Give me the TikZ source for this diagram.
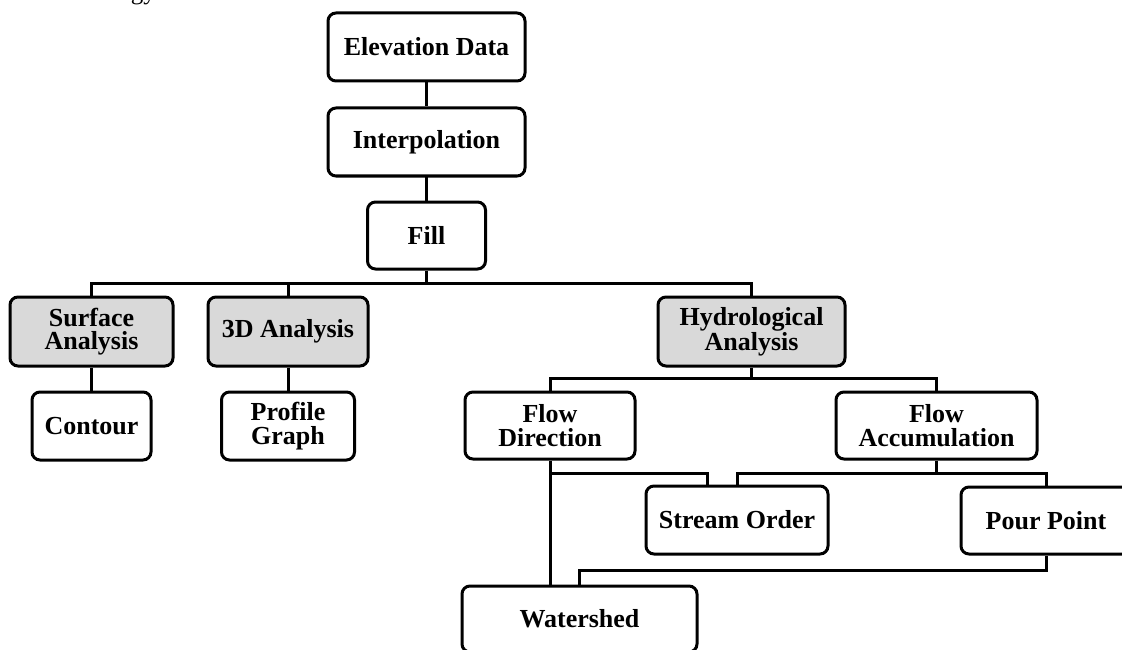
\documentclass[tikz,border=0pt]{standalone}
\usepackage{fontspec}
\setmainfont{Liberation Serif}
\definecolor{boxgray}{RGB}{217,217,217}
\tikzset{
  sz/.style n args={2}{minimum width=#1pt,minimum height=#2pt},
  box/.style={draw=black, line width=3pt, rounded corners=8pt, fill=white,
    inner sep=0pt, align=center, font=\fontsize{26}{23.5}\selectfont\bfseries},
  shaded/.style={box, fill=boxgray},
  link/.style={draw=black, line width=3pt},
  headtext/.style={inner sep=0pt, font=\fontsize{25}{26}\selectfont}
}
\begin{document}
\begin{tikzpicture}[x=1pt,y=-1pt]
\useasboundingbox (0,0) rectangle (1122,650);
\clip (0,0) rectangle (1122,650);
\fill[white] (0,0) rectangle (1122,650);

% cut-off heading
\node[headtext, anchor=base east] (head) at (156,0) {Methodology};

% bus levels
\coordinate (b1) at (0,283);
\coordinate (b2) at (0,378);
\coordinate (b3) at (0,473);
\coordinate (b4) at (0,570);

% nodes
\node[box, sz={197}{68}] (elev) at (426.5,47) {Elevation Data};
\node[box, sz={197}{68}] (interp) at (426.5,142) {Interpolation};
\node[box, sz={118}{67}] (fill) at (426.5,235.5) {Fill};

\node[shaded, sz={163}{69}] (surface) at (91.5,331.5) {Surface\\Analysis};
\node[shaded, sz={160}{69}] (d3) at (288,331.5) {3D Analysis};
\node[shaded, sz={187}{69}] (hydro) at (751.5,331.5) {Hydrological\\Analysis};

\node[box, sz={119}{68}] (contour) at (91.5,426) {Contour};
\node[box, sz={133}{68}] (profile) at (288,426) {Profile\\Graph};

\node[box, sz={170}{67}] (flowdir) at (550,425.5) {Flow\\Direction};
\node[box, sz={201}{67}] (flowacc) at (936.5,425.5) {Flow\\Accumulation};

\node[box, sz={182}{68}] (stream) at (737,520) {Stream Order};
\node[box, sz={170}{67}] (pour) at (1046,520.5) {Pour Point};
\node[box, sz={235}{66}] (watershed) at (579.5,619) {Watershed};

% connectors
\draw[link] (elev.south) -- (interp.north);
\draw[link] (interp.south) -- (fill.north);
\draw[link] (fill.south) -- (fill.south|-b1);
\draw[link] (surface.north) -- (surface.north|-b1) -| (hydro.north);
\draw[link] (d3.north) -- (d3.north|-b1);

\draw[link] (surface.south) -- (contour.north);
\draw[link] (d3.south) -- (profile.north);

\draw[link] (hydro.south) -- (hydro.south|-b2);
\draw[link] (flowdir.north) -- (flowdir.north|-b2) -| (flowacc.north);

\draw[link] (flowdir.south) -- (flowdir.south|-watershed.north);
\draw[link] (flowdir.south|-b3) -| ([xshift=-30pt]stream.north);
\draw[link] (flowacc.south) -- (flowacc.south|-b3);
\draw[link] (stream.north) -- (stream.north|-b3) -| (pour.north);
\draw[link] (pour.south) -- (pour.south|-b4) -| (watershed.north);
\end{tikzpicture}
\end{document}
